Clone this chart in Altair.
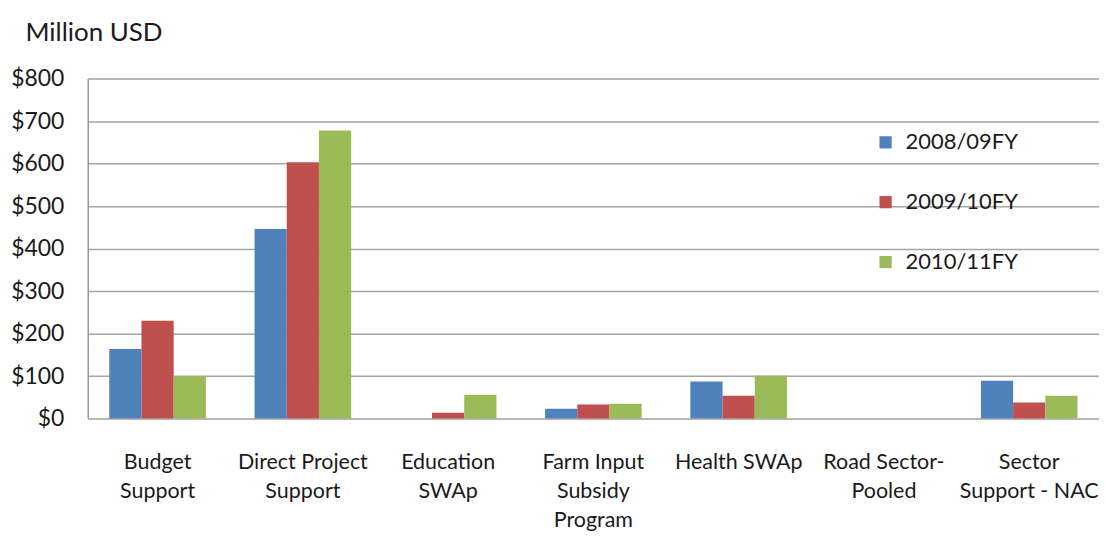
import altair as alt
import pandas as pd

categories = ["Budget Support", "Direct Project Support", "Education SWAp",
              "Farm Input Subsidy Program", "Health SWAp", "Road Sector-Pooled",
              "Sector Support - NAC"]
tick_labels = [["Budget", "Support"], ["Direct Project", "Support"], ["Education", "SWAp"],
               ["Farm Input", "Subsidy", "Program"], ["Health SWAp"], ["Road Sector-", "Pooled"],
               ["Sector", "Support - NAC"]]
series = ["2008/09FY", "2009/10FY", "2010/11FY"]
v0809 = [164, 446, 0, 23, 87, 0, 89]
v0910 = [230, 603, 14, 33, 54, 0, 38]
v1011 = [100, 678, 56, 35, 101, 0, 54]
colors = ["#4F81BD", "#C0504D", "#9BBB59"]

rows = []
for s, vals in zip(series, [v0809, v0910, v1011]):
    for c, v in zip(categories, vals):
        rows.append({"category": c, "series": s, "value": v})
df = pd.DataFrame(rows)

label_map = "{" + ",".join(
    "'" + c + "': [" + ",".join("'" + p + "'" for p in lab) + "]"
    for c, lab in zip(categories, tick_labels)) + "}"

FONT = "Lato"
TXT = "#1a1a1a"

chart = alt.Chart(df).mark_bar().encode(
    x=alt.X("category:N", sort=categories, title=None,
            scale=alt.Scale(paddingInner=0.335, paddingOuter=0.148),
            axis=alt.Axis(labelAngle=0, labelExpr=label_map + "[datum.value]",
                          labelFontSize=21.5, labelFont=FONT, labelColor=TXT,
                          labelPadding=33, labelLineHeight=29, ticks=False,
                          domain=False, labelLimit=200)),
    xOffset=alt.XOffset("series:N", sort=series),
    y=alt.Y("value:Q", scale=alt.Scale(domain=[0, 800], nice=False),
            title="Million USD",
            axis=alt.Axis(values=list(range(0, 801, 100)), format="$,.0f",
                          labelFontSize=23, labelFont=FONT, labelColor=TXT,
                          labelPadding=24, ticks=False,
                          domain=True, domainColor="#9a9a9a", domainWidth=1.5,
                          gridColor="#a6a6a6", gridWidth=1.5,
                          titleAngle=0, titleX=-63, titleY=-46, titleAlign="left",
                          titleBaseline="middle", titleFontSize=26, titleFont=FONT,
                          titleFontWeight="normal", titleColor=TXT)),
    color=alt.Color("series:N", sort=series,
                    scale=alt.Scale(domain=series, range=colors),
                    legend=alt.Legend(title=None, orient="none", legendX=789, legendY=53,
                                      symbolType="square", symbolSize=150,
                                      symbolStrokeWidth=0, labelFontSize=22,
                                      labelFont=FONT, labelColor=TXT,
                                      rowPadding=38, labelOffset=9)),
).properties(
    width=1014, height=341,
    autosize=alt.AutoSizeParams(type="none"),
    padding={"left": 80, "top": 70, "right": 0, "bottom": 113},
).configure_view(stroke=None).configure(background="white")

chart.save("out.html", embed_options={"renderer": "svg", "actions": False})
